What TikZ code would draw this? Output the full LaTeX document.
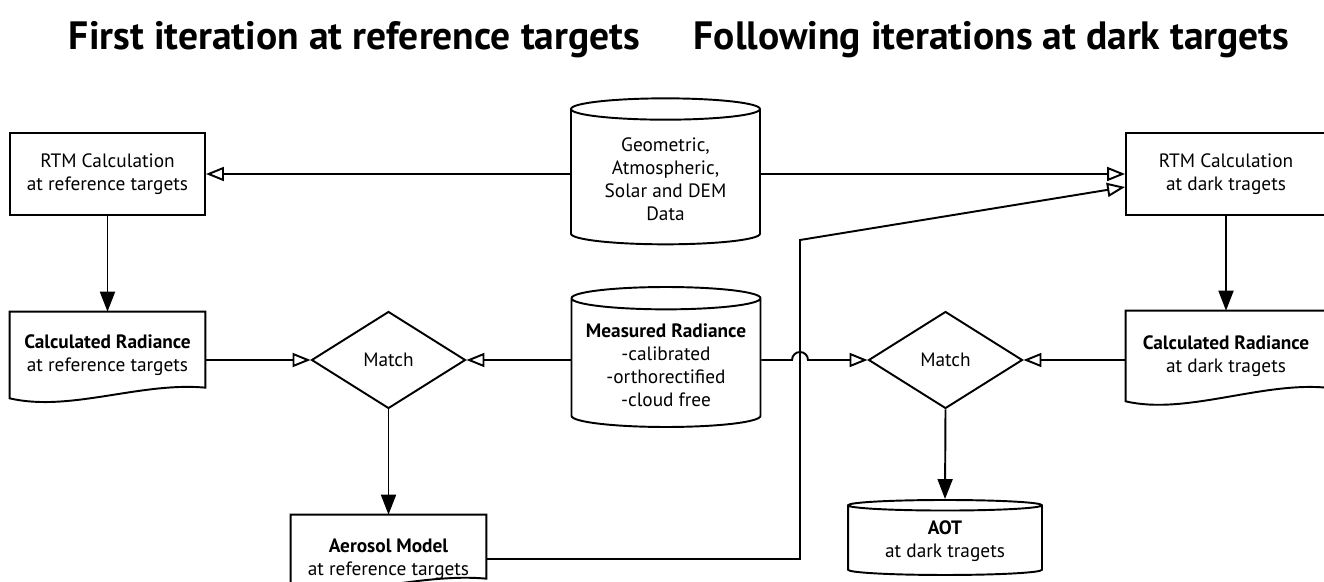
\documentclass[tikz,border=0pt]{standalone}
\usepackage{fontspec}
\setmainfont{PT Sans}
\usetikzlibrary{shapes.geometric,arrows.meta}

\tikzset{
  every node/.style={font=\fontsize{11}{13}\selectfont, align=center},
  proc/.style={draw, line width=1.1pt, minimum width=3.9cm, minimum height=1.64cm},
  docu/.style={minimum width=3.9cm, minimum height=1.72cm},
  store/.style={draw, line width=1.1pt, cylinder, shape border rotate=90, minimum width=3.78cm},
  decide/.style={draw, line width=1.1pt, diamond, minimum width=3.08cm, minimum height=1.94cm, inner sep=0pt},
  flow/.style={line width=1.1pt, -{Triangle[open,length=0.36cm,width=0.28cm]}},
  feed/.style={line width=1.1pt, -{Triangle[length=0.4cm,width=0.3cm]}},
  heading/.style={font=\fontsize{22.5}{24}\selectfont\bfseries, anchor=base}
}

\begin{document}
\begin{tikzpicture}[x=0.02cm,y=-0.02cm]
	\useasboundingbox (0,0) rectangle (1324,581);

	\node[heading] (t1) at (354.5,50) {First iteration at reference targets};
	\node[heading] (t2) at (991.5,50) {Following iterations at dark targets};

	% RTM boxes and input data
	\node[proc] (rtmL) at (107.5,174) {RTM Calculation\\at reference targets};
	\node[proc, minimum width=4cm] (rtmR) at (1226,174) {RTM Calculation\\at dark tragets};
	\node[store, minimum height=2.92cm, aspect=0.16] (geo) at (665.5,179) {Geometric,\\Atmospheric,\\Solar and DEM\\Data};

	% radiances
	\node[docu] (calcL) at (107.5,355) {\textbf{Calculated Radiance}\\at reference targets};
	\node[docu, minimum width=4cm, minimum height=1.8cm] (calcR) at (1226,356) {\textbf{Calculated Radiance}\\at dark tragets};
	\node[store, minimum height=2.8cm, aspect=0.13] (meas) at (666,365) {\textbf{Measured Radiance}\\-calibrated\\-orthorectified\\-cloud free};
	\draw[line width=1.1pt] (calcL.north west) -- (calcL.north east) -- ++(0,76)
		.. controls +(-65,-6) and +(60,14) .. (calcL.south west) -- cycle;
	\draw[line width=1.1pt] (calcR.north west) -- (calcR.north east) -- ++(0,77)
		.. controls +(-65,-6) and +(60,14) .. (calcR.south west) -- cycle;

	% matching
	\node[decide] (mL) at (388.5,360) {Match};
	\node[decide] (mR) at (945.5,360) {Match};

	% results
	\node[docu, minimum height=1.76cm] (aero) at (388.5,559) {\textbf{Aerosol Model}\\at reference targets};
	\draw[line width=1.1pt] (aero.north west) -- (aero.north east) -- ++(0,64)
		.. controls +(-65,-6) and +(60,10) .. ([yshift=0.3cm]aero.south west) -- cycle;
	\node[store, minimum width=3.88cm, minimum height=1.5cm, aspect=0.08] (aot) at (945,541.5) {\textbf{AOT}\\at dark tragets};

	\coordinate (hop) at (792,360);
	\coordinate (bendA) at (800,559);
	\coordinate (bendB) at (800,240);

	\draw[flow] (geo.west |- rtmL.east) -- (rtmL.east);
	\draw[flow] (geo.east |- rtmR.west) -- (rtmR.west);
	\draw[feed] (rtmL.south) -- (calcL.north);
	\draw[feed] (rtmR.south) -- (calcR.north);
	\draw[flow] (calcL.east |- mL.west) -- (mL.west);
	\draw[flow] (meas.west |- mL.east) -- (mL.east);
	\draw[flow] (calcR.west |- mR.east) -- (mR.east);
	\draw[flow] (meas.east |- mR.west) -- (hop) arc[start angle=180, end angle=360, radius=8] -- (mR.west);
	\draw[feed] (mL.south) -- (aero.north);
	\draw[feed] (mR.south) -- (aot.north);
	\draw[flow] (aero.east) -- (bendA) -- (bendB) -- ([yshift=-0.26cm]rtmR.west);
\end{tikzpicture}
\end{document}
